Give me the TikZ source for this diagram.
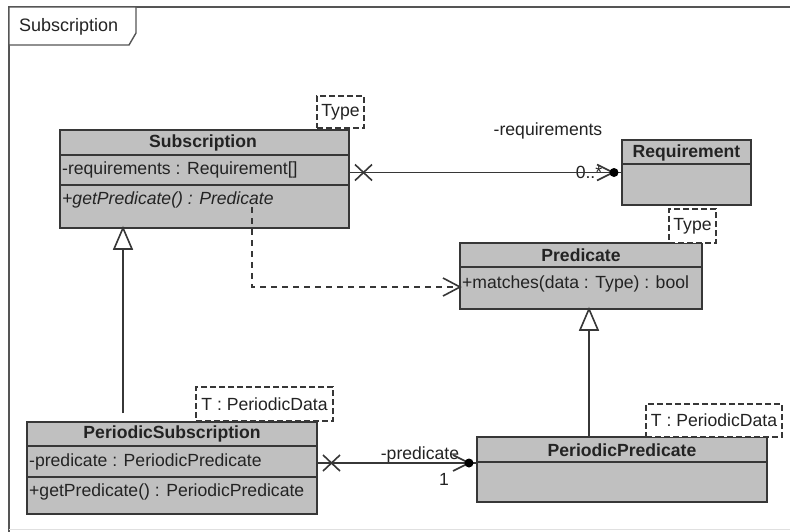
\documentclass[tikz,border=0pt]{standalone}
\usepackage{fontspec}
\setmainfont{Liberation Sans}
\usetikzlibrary{calc}
\definecolor{clsfill}{RGB}{192,192,192}
\definecolor{clsdraw}{RGB}{55,55,55}
\definecolor{txt}{RGB}{35,35,35}
\definecolor{frm}{RGB}{85,85,85}
\begin{document}
\begin{tikzpicture}[x=1pt,y=-1pt,
  every node/.style={font=\fontsize{17.6}{19}\selectfont, text=txt},
  cls/.style={draw=clsdraw, fill=clsfill, line width=1.9pt, inner sep=0pt, outer sep=0pt, anchor=north west},
  sep/.style={draw=clsdraw, line width=1.6pt},
  hdr/.style={font=\fontsize{17.6}{19}\selectfont\bfseries, inner sep=0pt},
  mem/.style={anchor=west, inner sep=0pt},
  tmpl/.style={draw=clsdraw, dashed, dash pattern=on 6pt off 3pt, line width=1.5pt, fill=white, inner sep=0pt, outer sep=0pt, anchor=north west},
  conn/.style={draw=clsdraw, line width=1.6pt},
  lbl/.style={inner sep=0pt}
]
\useasboundingbox (0,0) rectangle (790,531);
\fill[white] (0,0) rectangle (790,531);
% frame
\draw[frm, line width=1.4pt] (792,7) -- (9,7) -- (9,533);
\draw[black!12, line width=1pt] (9,529) -- (790,529);
\draw[frm, line width=1.4pt, fill=white] (9,7) -- (136,7) -- (136,33) -- (129,45) -- (9,45) -- cycle;
\node[lbl, anchor=west, font=\fontsize{18}{20}\selectfont] (ftitle) at (19,27) {Subscription};

% Subscription class
\node[cls, minimum width=289pt, minimum height=98pt] (sub) at (60,130) {};
\draw[sep] (60,155) -- (349,155);
\draw[sep] (60,185) -- (349,185);
\node[hdr] (subh) at (203,142.5) {Subscription};
\node[mem] (suba) at (62,170) {-requirements : Requirement[]};
\node[mem] (subo) at (62,200) {\itshape +getPredicate() : Predicate};
\node[tmpl, minimum width=47pt, minimum height=32pt] (subt) at (317,96) {};
\node[lbl] at (subt.center) {Type};

% Requirement class
\node[cls, minimum width=129pt, minimum height=65pt] (req) at (622,140) {};
\draw[sep] (622,164) -- (751,164);
\node[hdr] (reqh) at (686.5,152.5) {Requirement};

% Predicate class
\node[cls, minimum width=242pt, minimum height=66pt] (pred) at (460,243) {};
\draw[sep] (460,267) -- (702,267);
\node[hdr] (predh) at (581,255) {Predicate};
\node[mem] (preda) at (462,284) {+matches(data : Type) : bool};
\node[tmpl, minimum width=47pt, minimum height=34pt] (predt) at (669,209) {};
\node[lbl] at (predt.center) {Type};

% PeriodicSubscription class
\node[cls, minimum width=290pt, minimum height=92pt] (psub) at (27,422) {};
\draw[sep] (27,446) -- (317,446);
\draw[sep] (27,477) -- (317,477);
\node[hdr] (psubh) at (172,434) {PeriodicSubscription};
\node[mem] (psuba) at (29,461.5) {-predicate : PeriodicPredicate};
\node[mem] (psubo) at (29,492) {+getPredicate() : PeriodicPredicate};
\node[tmpl, minimum width=137pt, minimum height=34pt] (psubt) at (196,387) {};
\node[lbl] at (psubt.center) {T : PeriodicData};

% PeriodicPredicate class
\node[cls, minimum width=290pt, minimum height=65pt] (ppred) at (477,437) {};
\draw[sep] (477,462) -- (767,462);
\node[hdr] (ppredh) at (622,450) {PeriodicPredicate};
\node[tmpl, minimum width=136pt, minimum height=33pt] (ppredt) at (646,404) {};
\node[lbl] at (ppredt.center) {T : PeriodicData};

% association Subscription -> Requirement
\node[lbl] (l0) at (589,172) {0..*};
\node[lbl] (lreq) at (548,131) {-requirements};
\draw[conn] (sub.east |- req.west) -- (req.west);
\draw[conn] ($(sub.east |- req.west)+(6,-8)$) -- ++(17,16);
\draw[conn] ($(sub.east |- req.west)+(6,8)$) -- ++(17,-16);
\draw[conn] ($(req.west)+(-25,-8)$) -- ($(req.west)+(-9,0)$) -- ($(req.west)+(-25,8)$);
\fill[black] ($(req.west)+(-8,0)$) circle (4.5pt);

% association PeriodicSubscription -> PeriodicPredicate
\coordinate (pa1) at (317,463);
\coordinate (pa2) at (477,463);
\node[lbl] (lpred) at (420,455) {-predicate};
\node[lbl] (l1) at (444,479) {1};
\draw[conn] (pa1) -- (pa2);
\draw[conn] ($(pa1)+(6,-8)$) -- ++(17,16);
\draw[conn] ($(pa1)+(6,8)$) -- ++(17,-16);
\draw[conn] ($(pa2)+(-24,-8)$) -- ($(pa2)+(-8,0)$) -- ($(pa2)+(-24,8)$);
\fill[black] ($(pa2)+(-8,0)$) circle (4.5pt);

% dependency Subscription -> Predicate
\coordinate (d0) at (252,207);
\draw[conn, dashed, dash pattern=on 6pt off 5pt] (d0) -- (252,287) -- (pred.west |- 0,287);
\draw[conn] ($(pred.west |- 0,287)+(-17,-9)$) -- (pred.west |- 0,287) -- ($(pred.west |- 0,287)+(-17,9)$);

% generalizations
\coordinate (g1) at (123,413);
\draw[conn] (g1) -- (123,249);
\draw[conn, fill=white] (123,228) -- (132,249) -- (114,249) -- cycle;
\draw[conn] (ppred.north -| 589,0) -- (589,330);
\draw[conn, fill=white] (589,309) -- (598,330) -- (580,330) -- cycle;
\end{tikzpicture}
\end{document}
